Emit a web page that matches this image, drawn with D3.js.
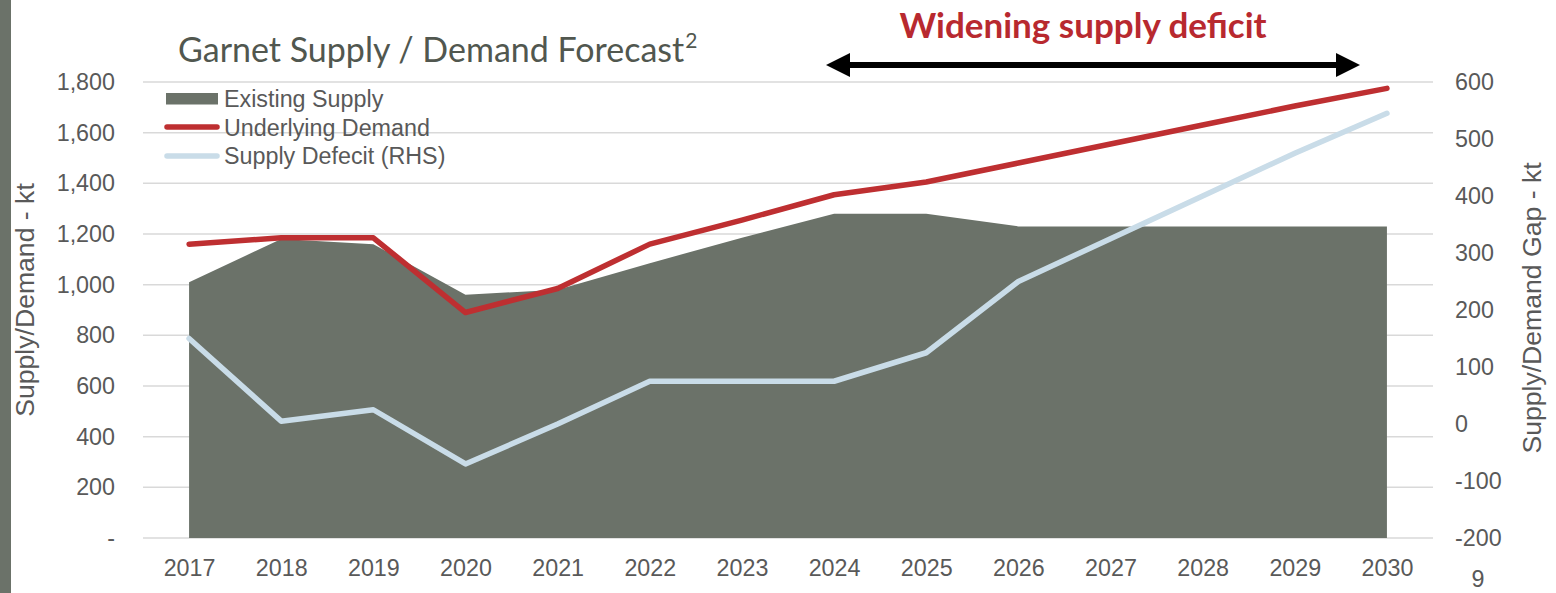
<!DOCTYPE html>
<html>
<head>
<meta charset="utf-8">
<script src="https://cdn.jsdelivr.net/npm/d3@7"></script>
<style>
  html, body { margin: 0; padding: 0; background: #fff; }
  svg { display: block; }
</style>
</head>
<body>
<svg id="chart" width="1556" height="593"></svg>
<script>
// Garnet market outlook, kilotonnes per year
const years = ["2017", "2018", "2019", "2020", "2021", "2022", "2023",
               "2024", "2025", "2026", "2027", "2028", "2029", "2030"];
const existingSupply   = [1010, 1180, 1160, 960, 980, 1085, 1185, 1280, 1280, 1230, 1230, 1230, 1230, 1230];
const underlyingDemand = [1160, 1185, 1185, 890, 985, 1160, 1255, 1355, 1405, 1480, 1555, 1630, 1705, 1775];
const supplyDefecit    = [150, 5, 25, -70, 0, 75, 75, 75, 125, 250, 325, 400, 475, 545];
const leftTicks  = [0, 200, 400, 600, 800, 1000, 1200, 1400, 1600, 1800];
const rightTicks = [-200, -100, 0, 100, 200, 300, 400, 500, 600];
const seriesNames = ["Existing Supply", "Underlying Demand", "Supply Defecit (RHS)"];

const svg = d3.select("#chart");
const axisFont = "'Liberation Sans', Arial, sans-serif";
const textGrey = "#595959";
const C = { supply: "#6b7269", demand: "#be2f31", gap: "#c9dce8", grid: "#d9d9d9" };

const plot = { left: 143, right: 1433, top: 82, bottom: 538 };

const x = d3.scalePoint().domain(years).range([plot.left, plot.right]).padding(0.5);
const yL = d3.scaleLinear().domain([0, 1800]).range([plot.bottom, plot.top]);
const yR = d3.scaleLinear().domain([-200, 600]).range([plot.bottom, plot.top]);

// slide side strip
svg.append("rect").attr("x", 0).attr("y", 0).attr("width", 11).attr("height", 593).attr("fill", C.supply);

// horizontal gridlines
svg.append("g").selectAll("line").data(leftTicks).join("line")
  .attr("x1", plot.left).attr("x2", plot.right)
  .attr("y1", d => yL(d)).attr("y2", d => yL(d))
  .attr("stroke", C.grid).attr("stroke-width", 1.5);

// existing supply area
const rows = years.map((yr, i) => ({ yr, s: existingSupply[i], d: underlyingDemand[i], g: supplyDefecit[i] }));
svg.append("path").datum(rows)
  .attr("fill", C.supply)
  .attr("d", d3.area().x(d => x(d.yr)).y0(yL(0)).y1(d => yL(d.s)));

// supply gap (right-hand axis)
svg.append("path").datum(rows)
  .attr("fill", "none").attr("stroke", C.gap).attr("stroke-width", 5.5)
  .attr("stroke-linejoin", "round").attr("stroke-linecap", "round")
  .attr("d", d3.line().x(d => x(d.yr)).y(d => yR(d.g)));

// demand line
svg.append("path").datum(rows)
  .attr("fill", "none").attr("stroke", C.demand).attr("stroke-width", 5.5)
  .attr("stroke-linejoin", "round").attr("stroke-linecap", "round")
  .attr("d", d3.line().x(d => x(d.yr)).y(d => yL(d.d)));

// axes
const fmtL = d => d === 0 ? "-" : d3.format(",")(d);
const fmtR = d => String(d);
const axL = svg.append("g").attr("transform", `translate(${plot.left},0)`)
  .call(d3.axisLeft(yL).tickValues(leftTicks).tickFormat(fmtL).tickSize(0).tickPadding(28));
const axR = svg.append("g").attr("transform", `translate(${plot.right},0)`)
  .call(d3.axisRight(yR).tickValues(rightTicks).tickFormat(fmtR).tickSize(0).tickPadding(22));
const axB = svg.append("g").attr("transform", `translate(0,${plot.bottom})`)
  .call(d3.axisBottom(x).tickSize(0).tickPadding(21));
[axL, axR, axB].forEach(g => {
  g.select(".domain").remove();
  g.selectAll("text").attr("font-family", axisFont).attr("font-size", 23.3).attr("fill", textGrey);
});

// axis titles
svg.append("text")
  .attr("transform", "translate(34,300) rotate(-90)")
  .attr("text-anchor", "middle")
  .attr("font-family", axisFont).attr("font-size", 26.6).attr("fill", textGrey)
  .text("Supply/Demand - kt");
svg.append("text")
  .attr("transform", "translate(1541,308) rotate(-90)")
  .attr("text-anchor", "middle")
  .attr("font-family", axisFont).attr("font-size", 26.6).attr("fill", textGrey)
  .text("Supply/Demand Gap - kt");

// legend
const lg = svg.append("g").attr("font-family", axisFont).attr("font-size", 23.3).attr("fill", textGrey);
lg.append("rect").attr("x", 166).attr("y", 93).attr("width", 52).attr("height", 11.5).attr("fill", C.supply);
lg.append("line").attr("x1", 167).attr("x2", 217).attr("y1", 127).attr("y2", 127)
  .attr("stroke", C.demand).attr("stroke-width", 5.5).attr("stroke-linecap", "round");
lg.append("line").attr("x1", 167).attr("x2", 217).attr("y1", 156).attr("y2", 156)
  .attr("stroke", C.gap).attr("stroke-width", 5.5).attr("stroke-linecap", "round");
lg.selectAll("text.lbl").data(seriesNames).join("text")
  .attr("class", "lbl")
  .attr("x", 224).attr("y", (d, i) => 107 + i * 28.5)
  .text(d => d);

// chart title with footnote marker
const title = svg.append("text")
  .attr("x", 178).attr("y", 62)
  .attr("font-family", "Lato, 'Open Sans', sans-serif").attr("font-size", 34).attr("fill", "#51574f");
title.append("tspan").text("Garnet Supply / Demand Forecast");
title.append("tspan").attr("font-size", 21).attr("dy", -14).attr("dx", 1).text("2");

// annotation: widening deficit
svg.append("text")
  .attr("x", 1083).attr("y", 38).attr("text-anchor", "middle")
  .attr("font-family", "Lato, 'Open Sans', sans-serif").attr("font-weight", 700)
  .attr("font-size", 35).attr("fill", "#b8292f")
  .text("Widening supply deficit");

const ay = 65, ax0 = 826, ax1 = 1360, head = 24, hh = 12;
svg.append("line").attr("x1", ax0 + head - 2).attr("x2", ax1 - head + 2).attr("y1", ay).attr("y2", ay)
  .attr("stroke", "#000").attr("stroke-width", 6);
svg.append("path").attr("fill", "#000")
  .attr("d", `M${ax0},${ay} L${ax0 + head},${ay - hh} L${ax0 + head},${ay + hh} Z`);
svg.append("path").attr("fill", "#000")
  .attr("d", `M${ax1},${ay} L${ax1 - head},${ay - hh} L${ax1 - head},${ay + hh} Z`);

// page number
svg.append("text").attr("x", 1478).attr("y", 587).attr("text-anchor", "middle")
  .attr("font-family", axisFont).attr("font-size", 23.3).attr("fill", textGrey).text("9");
</script>
</body>
</html>
